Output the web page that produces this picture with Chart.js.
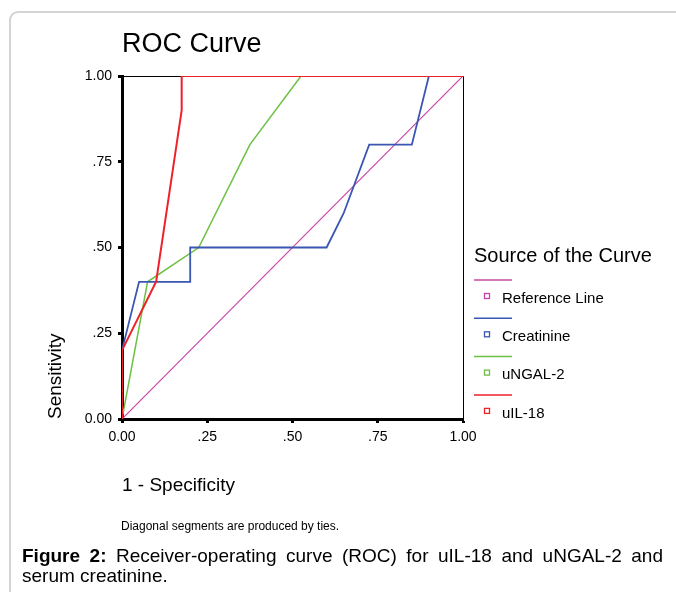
<!DOCTYPE html>
<html>
<head>
<meta charset="utf-8">
<script src="https://cdn.jsdelivr.net/npm/chart.js@4/dist/chart.umd.min.js"></script>
<style>
  body { margin: 0; background: #fff; }
  #wrap { position: relative; width: 676px; height: 592px; overflow: hidden; font-family: "Liberation Sans", Arial, sans-serif; }
  #frame { position: absolute; left: 9px; top: 11px; width: 720px; height: 600px; border-left: 2px solid #d4d4d4; border-top: 2px solid #d4d4d4; border-top-left-radius: 9px; box-sizing: border-box; }
  #roc { position: absolute; left: 0; top: 0; }
  #note { position: absolute; left: 121px; top: 519px; font-size: 12px; line-height: 14px; color: #000; }
  #caption { position: absolute; left: 22px; top: 546px; width: 641px; font-size: 19px; line-height: 20px; color: #000; }
  #caption .l1 { text-align: justify; text-align-last: justify; }
</style>
</head>
<body>
<div id="wrap">
  <div id="frame"></div>
  <canvas id="roc" width="676" height="592"></canvas>
  <div id="note">Diagonal segments are produced by ties.</div>
  <div id="caption">
    <div class="l1"><b>Figure 2:</b> Receiver-operating curve (ROC) for uIL-18 and uNGAL-2 and</div>
    <div>serum creatinine.</div>
  </div>
</div>
<script>
// ---------- data ----------
const curveNames = ["Reference Line", "Creatinine", "uNGAL-2", "uIL-18"];
const curveColors = ["#c846a8", "#3b56b2", "#6cc043", "#ee2028"];

const refX = [0, 1];
const refY = [0, 1];
const creatX = [0, 0, 0.05, 0.2, 0.2, 0.6, 0.65, 0.725, 0.85, 0.9, 1];
const creatY = [0, 0.2, 0.4, 0.4, 0.5, 0.5, 0.6, 0.8, 0.8, 1, 1];
const ngalX = [0, 0.075, 0.225, 0.375, 0.525, 1];
const ngalY = [0, 0.4, 0.5, 0.8, 1, 1];
const il18X = [0, 0, 0.1, 0.175, 0.175, 1];
const il18Y = [0, 0.2, 0.4, 0.9, 1, 1];

const tickVals = [0, 0.25, 0.5, 0.75, 1];
const tickLabels = ["0.00", ".25", ".50", ".75", "1.00"];

const toPoints = (xs, ys) => xs.map((x, i) => ({ x: x, y: ys[i] }));

Chart.defaults.font.family = "'Liberation Sans', Arial, sans-serif";
Chart.defaults.color = "#000";

// thin frame on top / right of the plot
const plotFrame = {
  id: "plotFrame",
  beforeDatasetsDraw(chart) {
    const { ctx, chartArea } = chart;
    ctx.save();
    ctx.strokeStyle = "#000";
    ctx.lineWidth = 1;
    ctx.beginPath();
    ctx.moveTo(chartArea.left, Math.round(chartArea.top) + 0.5);
    ctx.lineTo(Math.round(chartArea.right) + 0.5, Math.round(chartArea.top) + 0.5);
    ctx.lineTo(Math.round(chartArea.right) + 0.5, chartArea.bottom);
    ctx.stroke();
    ctx.restore();
  },
};

// SPSS style legend: line sample, then square + label underneath
const spssLegend = {
  id: "spssLegend",
  afterDraw(chart) {
    const { ctx, chartArea } = chart;
    const x0 = chartArea.right + 11;
    ctx.save();
    ctx.fillStyle = "#000";
    ctx.textBaseline = "middle";
    ctx.font = "20px 'Liberation Sans', Arial, sans-serif";
    ctx.fillText("Source of the Curve", x0, chartArea.top + 180);
    ctx.font = "15px 'Liberation Sans', Arial, sans-serif";
    chart.data.datasets.forEach((ds, i) => {
      const yl = chartArea.top + 204 + i * 38.3;
      ctx.strokeStyle = ds.borderColor;
      ctx.lineWidth = 1.5;
      ctx.beginPath();
      ctx.moveTo(x0, yl);
      ctx.lineTo(x0 + 38, yl);
      ctx.stroke();
      ctx.lineWidth = 1.3;
      ctx.strokeRect(x0 + 10.5, yl + 13.5, 5, 5);
      ctx.fillStyle = "#000";
      ctx.fillText(ds.label, x0 + 28, yl + 18.5);
    });
    ctx.restore();
  },
};

const axisCommon = {
  type: "linear",
  min: 0,
  max: 1,
  afterBuildTicks: (s) => {
    s.ticks = tickVals.map((v) => ({ value: v }));
  },
  ticks: {
    callback: (v) => tickLabels[tickVals.indexOf(v)],
    padding: 6,
    font: { size: 14 },
    color: "#000",
  },
  grid: { drawOnChartArea: false, drawTicks: true, tickLength: 4, tickWidth: 3, tickColor: "#000" },
  border: { display: true, width: 3, color: "#000" },
};

new Chart(document.getElementById("roc"), {
  type: "scatter",
  data: {
    datasets: [
      { label: curveNames[0], data: toPoints(refX, refY), borderColor: curveColors[0], borderWidth: 1.2, order: 3 },
      { label: curveNames[1], data: toPoints(creatX, creatY), borderColor: curveColors[1], borderWidth: 1.8, order: 1 },
      { label: curveNames[2], data: toPoints(ngalX, ngalY), borderColor: curveColors[2], borderWidth: 1.5, order: 2 },
      { label: curveNames[3], data: toPoints(il18X, il18Y), borderColor: curveColors[3], borderWidth: 2, order: 0 },
    ].map((d) => Object.assign(d, { showLine: true, pointRadius: 0, fill: false, tension: 0, backgroundColor: d.borderColor })),
  },
  options: {
    responsive: false,
    animation: false,
    layout: { padding: { left: 0, top: 0, right: 213, bottom: 73 } },
    plugins: {
      legend: { display: false },
      tooltip: { enabled: false },
      title: {
        display: true,
        text: "ROC Curve",
        align: "start",
        fullSize: false,
        color: "#000",
        font: { size: 27, weight: "normal" },
        padding: { top: 28, bottom: 15.6 },
      },
    },
    scales: {
      x: Object.assign({}, axisCommon, {
        position: "bottom",
        title: { display: true, text: "1 - Specificity", align: "start", color: "#000", font: { size: 19 }, padding: { bottom: 22 } },
        afterFit: (s) => { s.height = 100; },
      }),
      y: Object.assign({}, axisCommon, {
        position: "left",
        title: { display: true, text: "Sensitivity", align: "start", color: "#000", font: { size: 19 }, padding: { top: 44 } },
        afterFit: (s) => { s.width = 122; },
      }),
    },
  },
  plugins: [plotFrame, spssLegend],
});
</script>
</body>
</html>
